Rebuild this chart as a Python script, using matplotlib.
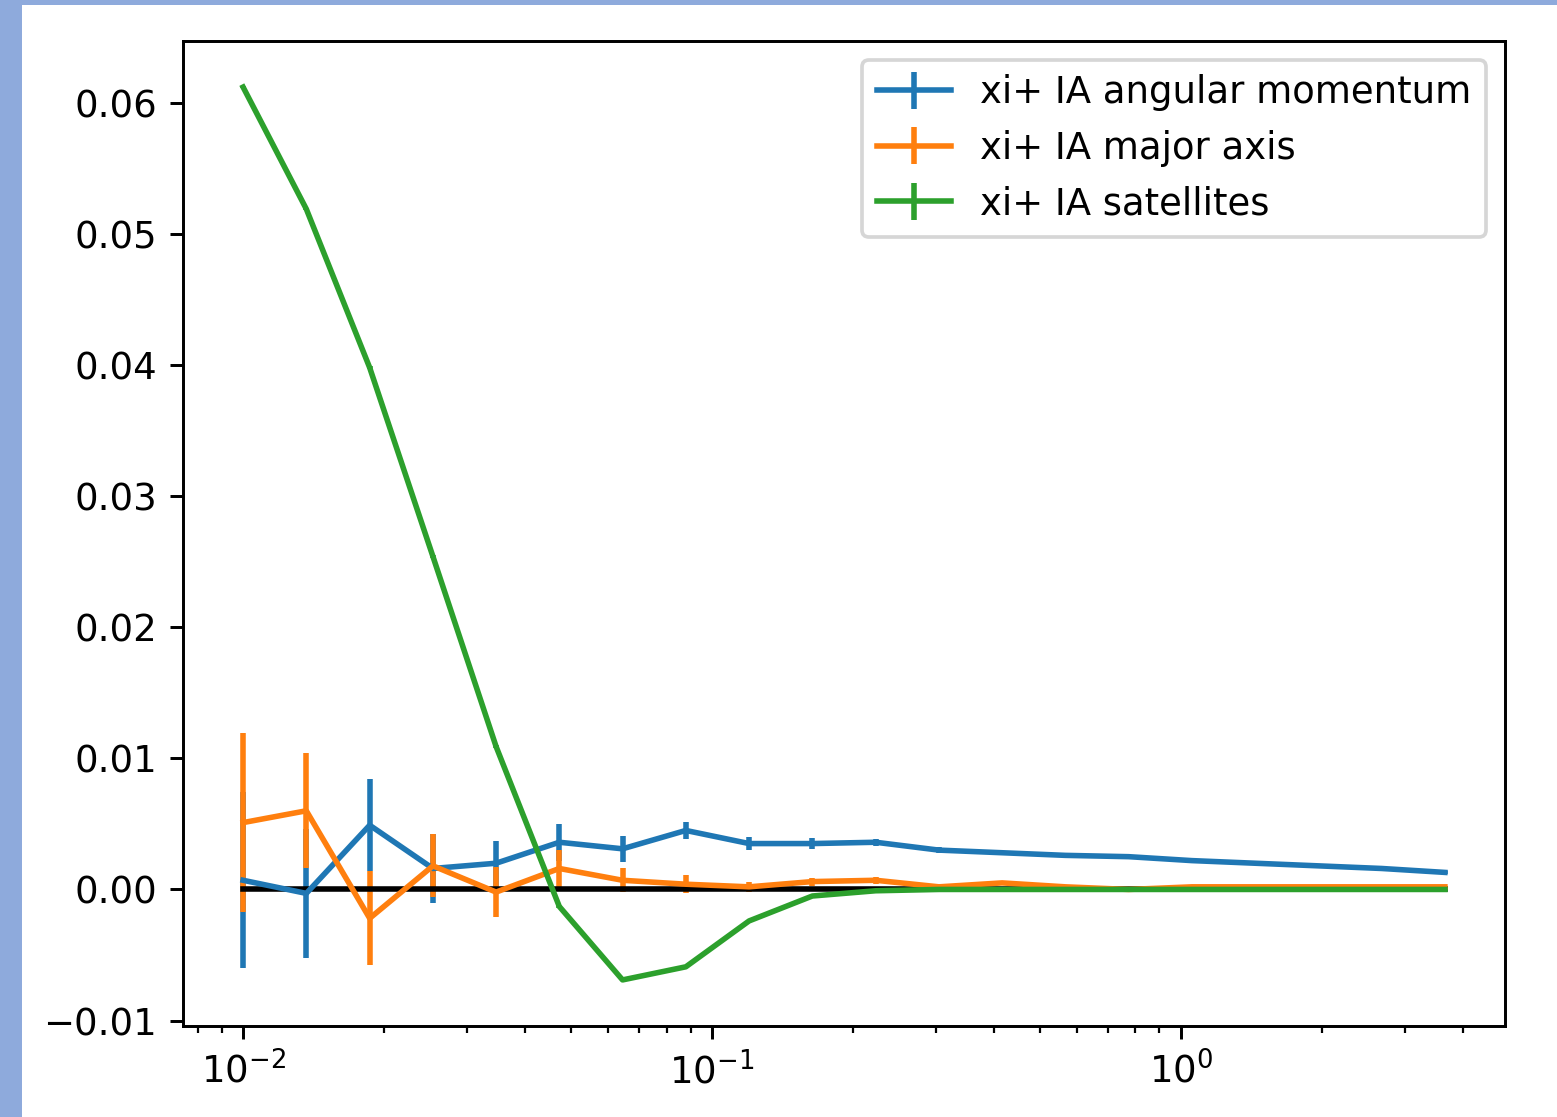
import matplotlib.pyplot as plt
import numpy as np

## data

r = [0.01, 0.01364, 0.01862, 0.0254, 0.03464, 0.04725, 0.06446, 0.08795, 0.12, 0.1637,
     0.2234, 0.3048, 0.4157, 0.5672, 0.7738, 1.056, 1.44, 1.965, 2.68, 3.657]

xi_angmom = [0.0007, -0.0003, 0.0049, 0.0016, 0.0020, 0.0036, 0.0031, 0.0045, 0.0035, 0.0035,
             0.0036, 0.0030, 0.0028, 0.0026, 0.0025, 0.0022, 0.0020, 0.0018, 0.0016, 0.0013]
err_angmom = [0.0067, 0.0049, 0.0035, 0.0026, 0.0017, 0.0014, 0.0010, 0.00065, 0.0005, 0.0004,
              0.00025, 0.0002, 0.00015, 0.0001, 0.0001, 0.0001, 0.0001, 0.0001, 0.0001, 0.0001]

xi_major = [0.0051, 0.0060, -0.0022, 0.0018, -0.0002, 0.0016, 0.0007, 0.0004, 0.0002, 0.0006,
            0.0007, 0.0002, 0.0005, 0.0002, 0.0000, 0.0002, 0.0002, 0.0002, 0.0002, 0.0002]
err_major = [0.0068, 0.0044, 0.0036, 0.0024, 0.0019, 0.0014, 0.0009, 0.0007, 0.0004, 0.0003,
             0.00025, 0.0002, 0.00015, 0.0001, 0.0001, 0.0001, 0.0001, 0.0001, 0.0001, 0.0001]

xi_sat = [0.0612, 0.0519, 0.0398, 0.0254, 0.0109, -0.0013, -0.0069, -0.0059, -0.0024, -0.0005,
          -0.0001, 0.0000, 0.0000, 0.0000, 0.0000, 0.0000, 0.0000, 0.0000, 0.0000, 0.0000]
err_sat = [0.0001, 0.0001, 0.0001, 0.0001, 0.0001, 0.0001, 0.0001, 0.0001, 0.0001, 0.0001,
           0.0001, 0.0001, 0.0001, 0.0001, 0.0001, 0.0001, 0.0001, 0.0001, 0.0001, 0.0001]

zero_line = [0.0] * len(r)

## figure: the screenshot is the 6.4x4.8 default figure at ~266 px per inch

dpi = 266.5
W, H = 1557, 1117
fig = plt.figure(figsize=(W/dpi, H/dpi), dpi=dpi, facecolor='#8eaadc')

# white page inside the blue frame (kept behind the axes)
page = plt.Rectangle((22/W, 0), 1 - 22/W, 1 - 5/H, transform=fig.transFigure,
                     facecolor='white', edgecolor='none', zorder=-10)
fig.add_artist(page)

ax = fig.add_axes([183/W, (H-1026)/H, (1505-183)/W, (1026-41)/H])
ax.set_zorder(5)

ax.errorbar(r, xi_angmom, yerr=err_angmom, label='xi+ IA angular momentum')
ax.errorbar(r, xi_major, yerr=err_major, label='xi+ IA major axis')
ax.plot(r, zero_line, color='black')
ax.errorbar(r, xi_sat, yerr=err_sat, label='xi+ IA satellites')

ax.set_xscale('log')
ax.legend()

fig.savefig('out.png', dpi=dpi, facecolor=fig.get_facecolor())
